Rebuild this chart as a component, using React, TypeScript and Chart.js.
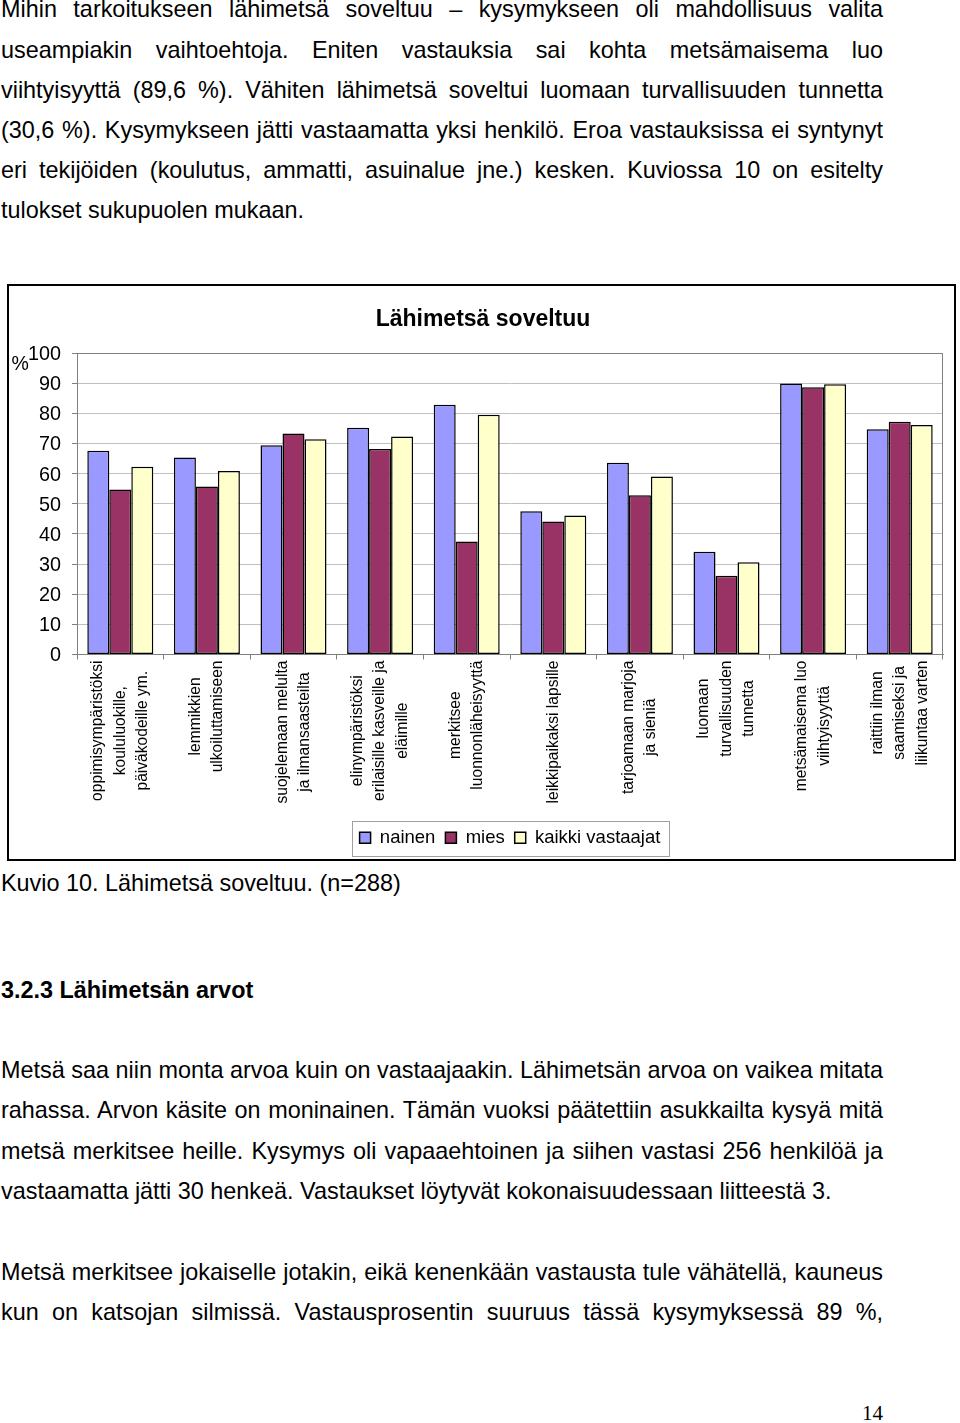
import React, { useEffect, useRef } from 'react';
import { Chart, registerables } from 'chart.js';

Chart.register(...registerables);

// ---- chart data ----
const categories: string[][] = [
  ['oppimisympäristöksi', 'koululuokille,', 'päiväkodeille ym.'],
  ['lemmikkien', 'ulkoiluttamiseen'],
  ['suojelemaan melulta', 'ja ilmansaasteilta'],
  ['elinympäristöksi', 'erilaisille kasveille ja', 'eläimille'],
  ['merkitsee', 'luonnonläheisyyttä'],
  ['leikkipaikaksi lapsille'],
  ['tarjoamaan marjoja', 'ja sieniä'],
  ['luomaan', 'turvallisuuden', 'tunnetta'],
  ['metsämaisema luo', 'viihtyisyyttä'],
  ['raittiin ilman', 'saamiseksi ja', 'liikuntaa varten'],
];
const seriesNames = ['nainen', 'mies', 'kaikki vastaajat'];
const nainen = [67.6, 65.3, 69.4, 75.2, 82.8, 47.5, 63.6, 34.1, 89.9, 74.7];
const mies = [54.7, 55.7, 73.3, 68.2, 37.5, 44.1, 52.8, 26.1, 88.6, 77.2];
const kaikki = [62.3, 60.9, 71.4, 72.3, 79.5, 46.1, 59.0, 30.6, 89.6, 76.1];
const seriesColors = ['#9999FF', '#993366', '#FFFFCC'];
const yMin = 0;
const yMax = 100;
const yStep = 10;
const chartTitle = 'Lähimetsä soveltuu';
const yUnit = '%';

// ---- page text ----
const para1 = [
  'Mihin tarkoitukseen lähimetsä soveltuu – kysymykseen oli mahdollisuus valita',
  'useampiakin vaihtoehtoja. Eniten vastauksia sai kohta metsämaisema luo',
  'viihtyisyyttä (89,6 %). Vähiten lähimetsä soveltui luomaan turvallisuuden tunnetta',
  '(30,6 %). Kysymykseen jätti vastaamatta yksi henkilö. Eroa vastauksissa ei syntynyt',
  'eri tekijöiden (koulutus, ammatti, asuinalue jne.) kesken. Kuviossa 10 on esitelty',
  'tulokset sukupuolen mukaan.',
];
const caption = 'Kuvio 10. Lähimetsä soveltuu. (n=288)';
const heading = '3.2.3 Lähimetsän arvot';
const para2 = [
  'Metsä saa niin monta arvoa kuin on vastaajaakin. Lähimetsän arvoa on vaikea mitata',
  'rahassa. Arvon käsite on moninainen. Tämän vuoksi päätettiin asukkailta kysyä mitä',
  'metsä merkitsee heille. Kysymys oli vapaaehtoinen ja siihen vastasi 256 henkilöä ja',
  'vastaamatta jätti 30 henkeä. Vastaukset löytyvät kokonaisuudessaan liitteestä 3.',
];
const para3 = [
  'Metsä merkitsee jokaiselle jotakin, eikä kenenkään vastausta tule vähätellä, kauneus',
  'kun on katsojan silmissä. Vastausprosentin suuruus tässä kysymyksessä 89 %,',
];
const pageNumber = '14';

const FONT = '"Liberation Sans", Arial, Helvetica, sans-serif';
const BODY_SIZE = 23.4;

const xLabelPlugin = {
  id: 'xLabels',
  afterDraw(chart: any) {
    const xs = chart.scales.x;
    const ctx = chart.ctx as CanvasRenderingContext2D;
    ctx.save();
    ctx.font = `15.6px ${FONT}`;
    ctx.fillStyle = '#000';
    ctx.textAlign = 'center';
    ctx.textBaseline = 'middle';
    const lh = 22.5;
    (chart.data.labels as any[]).forEach((lab, i) => {
      const lines: string[] = Array.isArray(lab) ? lab : [String(lab)];
      const maxW = Math.max(...lines.map((l) => ctx.measureText(l).width));
      const x = xs.getPixelForTick(i);
      ctx.save();
      ctx.translate(x, xs.top + 6);
      ctx.rotate(-Math.PI / 2);
      lines.forEach((l, j) => ctx.fillText(l, -maxW / 2, (j - (lines.length - 1) / 2) * lh));
      ctx.restore();
    });
    ctx.restore();
  },
};

const framePlugin = {
  id: 'plotFrame',
  beforeDatasetsDraw(chart: any) {
    const { ctx, chartArea: a } = chart;
    ctx.save();
    ctx.strokeStyle = '#808080';
    ctx.lineWidth = 1;
    ctx.beginPath();
    ctx.moveTo(a.left, a.top + 0.5);
    ctx.lineTo(a.right - 0.5, a.top + 0.5);
    ctx.lineTo(a.right - 0.5, a.bottom);
    ctx.stroke();
    ctx.restore();
  },
  afterDraw(chart: any) {
    const lg = chart.legend;
    if (!lg || !lg.legendHitBoxes || !lg.legendHitBoxes.length) return;
    const hb = lg.legendHitBoxes;
    const left = Math.min(...hb.map((h: any) => h.left)) - 8;
    const right = Math.max(...hb.map((h: any) => h.left + h.width)) + 8;
    const top = Math.min(...hb.map((h: any) => h.top)) - 8;
    const bottom = Math.max(...hb.map((h: any) => h.top + h.height)) + 8;
    const ctx = chart.ctx;
    ctx.save();
    ctx.strokeStyle = '#a0a0a0';
    ctx.lineWidth = 1;
    ctx.strokeRect(Math.round(left) + 0.5, Math.round(top) + 0.5, Math.round(right - left), Math.round(bottom - top));
    ctx.restore();
  },
};

function TextLine({ text, top, justify, bold, size = BODY_SIZE }: { text: string; top: number; justify?: boolean; bold?: boolean; size?: number }) {
  return (
    <div
      style={{
        position: 'absolute',
        left: 1,
        top,
        width: 882,
        fontSize: size,
        lineHeight: `${size}px`,
        fontWeight: bold ? 'bold' : 'normal',
        textAlign: justify ? 'justify' : 'left',
        textAlignLast: justify ? 'justify' : 'left',
      } as React.CSSProperties}
    >
      {text}
    </div>
  );
}

export default function App() {
  const ref = useRef<HTMLCanvasElement>(null);

  useEffect(() => {
    Chart.defaults.font.family = FONT;
    const data = [nainen, mies, kaikki];
    const chart = new Chart(ref.current as HTMLCanvasElement, {
      type: 'bar',
      data: {
        labels: categories as any,
        datasets: seriesNames.map((name, k) => ({
          label: name,
          data: data[k],
          backgroundColor: seriesColors[k],
          borderColor: '#000',
          borderWidth: 1.5,
          borderSkipped: false,
          categoryPercentage: 0.762,
          barPercentage: 1,
        })),
      },
      options: {
        animation: false,
        responsive: false,
        devicePixelRatio: 1,
        layout: { padding: { left: 14, right: 11, top: 0, bottom: 2 } },
        plugins: {
          title: {
            display: true,
            text: chartTitle,
            color: '#000',
            font: { size: 23, weight: 'bold', family: FONT },
            padding: { top: 19.5, bottom: 19.9 },
          },
          legend: {
            position: 'bottom',
            fullSize: false,
            labels: {
              boxWidth: 11,
              boxHeight: 11,
              padding: 10,
              color: '#000',
              font: { size: 18.5, family: FONT },
            },
          },
          tooltip: { enabled: false },
        },
        scales: {
          x: {
            grid: { offset: true, drawOnChartArea: false, drawTicks: true, tickLength: 5, color: '#808080' },
            border: { color: '#808080', width: 1 },
            ticks: { display: false },
            afterFit: (s: any) => {
              s.height = 164;
            },
          },
          y: {
            min: yMin,
            max: yMax,
            ticks: { stepSize: yStep, color: '#000', padding: 11, labelOffset: 1.5, font: { size: 19.8, family: FONT } },
            grid: { color: '#c0c0c0', tickColor: '#808080', tickLength: 5 },
            border: { color: '#808080', width: 1 },
            afterFit: (s: any) => {
              s.width = 54;
            },
          },
        },
      } as any,
      plugins: [xLabelPlugin, framePlugin],
    });
    return () => chart.destroy();
  }, []);

  const base1 = 16.7;
  const gap = 40.15;
  const asc = 18.3;

  return (
    <div
      style={{
        position: 'absolute',
        left: 0,
        top: 0,
        width: 960,
        height: 1423,
        overflow: 'hidden',
        background: '#fff',
        color: '#000',
        fontFamily: FONT,
      }}
    >
      {para1.map((t, i) => (
        <TextLine key={'p1' + i} text={t} top={base1 + gap * i - asc} justify={i < para1.length - 1} />
      ))}

      <div
        style={{
          position: 'absolute',
          left: 7,
          top: 284,
          width: 949,
          height: 577,
          border: '2px solid #000',
          boxSizing: 'border-box',
        }}
      />
      <canvas
        ref={ref}
        width={945}
        height={573}
        style={{ position: 'absolute', left: 9, top: 286, width: 945, height: 573 }}
      />
      <span
        style={{
          position: 'absolute',
          left: 11.5,
          top: 354,
          fontSize: 19.5,
          lineHeight: '19.5px',
        }}
      >
        {yUnit}
      </span>

      <TextLine text={caption} top={890 - asc} />
      <TextLine text={heading} top={997 - asc} bold />
      {para2.map((t, i) => (
        <TextLine key={'p2' + i} text={t} top={1077.5 + gap * i - asc} justify={i < para2.length - 1} />
      ))}
      {para3.map((t, i) => (
        <TextLine key={'p3' + i} text={t} top={1279.5 + gap * i - asc} justify />
      ))}
      <div
        style={{
          position: 'absolute',
          left: 862,
          top: 1421 - 18,
          fontFamily: '"Liberation Serif", "Times New Roman", serif',
          fontSize: 21,
          lineHeight: '21px',
        }}
      >
        {pageNumber}
      </div>
    </div>
  );
}
